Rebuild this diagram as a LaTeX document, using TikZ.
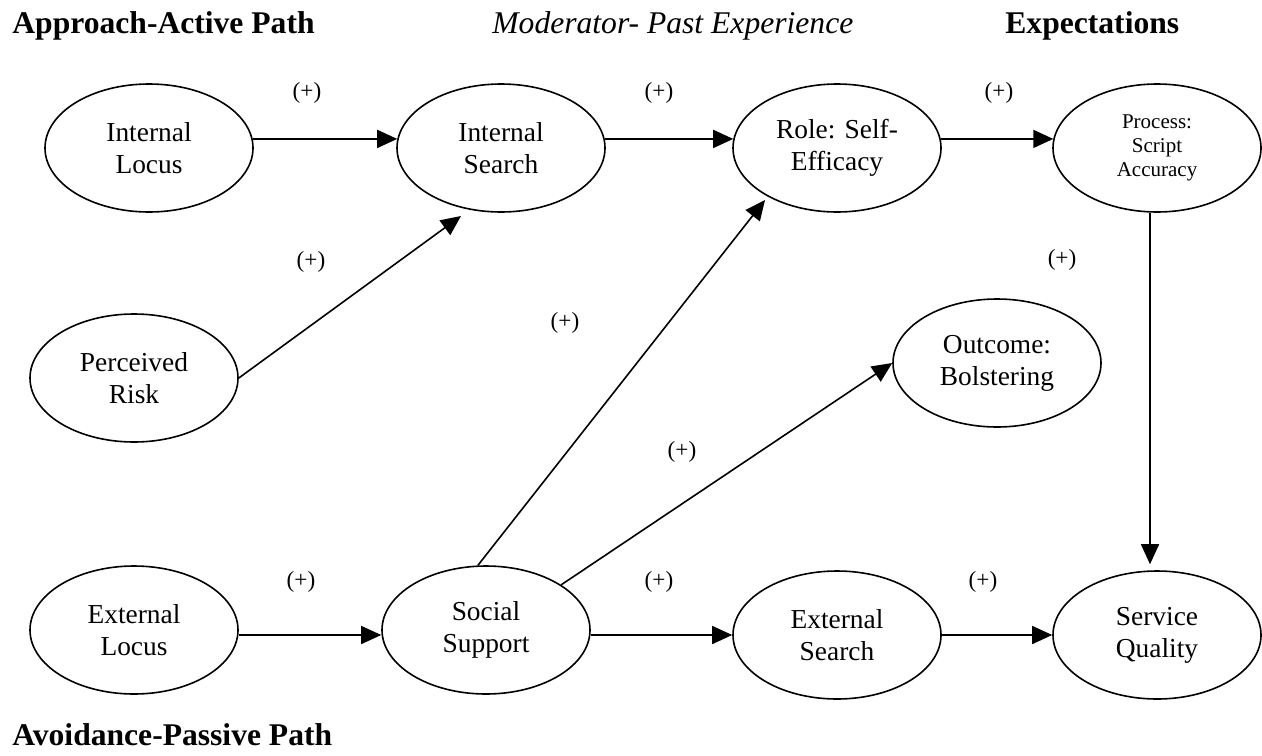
\documentclass[tikz,border=0pt]{standalone}
\usepackage{fontspec}
\setmainfont{Liberation Serif}
\usetikzlibrary{arrows.meta,calc,shapes.geometric}

\tikzset{
  construct/.style={draw, line width=0.8pt, ellipse, inner sep=0pt,
    minimum width=104pt, minimum height=64pt, align=center,
    font=\fontsize{13.7pt}{16pt}\selectfont},
  smalltext/.style={font=\fontsize{10.5pt}{12pt}\selectfont},
  sign/.style={font=\fontsize{11.6pt}{13pt}\selectfont, inner sep=0pt},
  heading/.style={anchor=base west, inner sep=0pt,
    font=\fontsize{15.8pt}{18pt}\selectfont},
  link/.style={line width=0.8pt, -{Triangle[length=10pt,width=9pt]}}
}

\begin{document}
\begin{tikzpicture}[x=0.5pt, y=-0.5pt]
\useasboundingbox (0,0) rectangle (1262,755);

% headings
\node[heading] (hA) at (12,33) {\bfseries Approach-Active Path};
\node[heading] (hM) at (492,33) {\itshape Moderator- Past Experience};
\node[heading] (hE) at (1005,33) {\bfseries Expectations};
\node[heading] (hP) at (12,745) {\bfseries Avoidance-Passive Path};

% constructs
\node[construct] (il) at (149,148) {Internal\\Locus};
\node[construct] (is) at (501,148) {Internal\\Search};
\node[construct] (se) at (837,148) {Role: Self-\\Efficacy};
\node[construct, smalltext] (ps) at (1157,148) {Process:\\Script\\Accuracy};
\node[construct] (pr) at (134,378) {Perceived\\Risk};
\node[construct] (ob) at (997,363) {Outcome:\\Bolstering};
\node[construct] (el) at (134,630) {External\\Locus};
\node[construct] (ss) at (486,630) {Social\\Support};
\node[construct] (es) at (837,635) {External\\Search};
\node[construct] (sq) at (1157,635) {Service\\Quality};

% approach-active path
\draw[link] (il.5) -- (is.175);
\draw[link] (is.5) -- (se.175);
\draw[link] (se.5) -- (ps.175);
\draw[link] (pr.east) -- ($(is.center)+(-40,68)$);

% social support paths
\draw[link] ($(ss.north)+(-8,0)$) -- ($(se.center)+(-72,52)$);
\draw[link] (ss.31) -- (ob.west);

% avoidance-passive path
\draw[link] (el.east |- es.west) -- (ss.west |- es.west);
\draw[link] (ss.east |- es.west) -- (es.west);
\draw[link] (es.east) -- (sq.west);
\draw[link] ($(ps.south)+(-7,0)$) -- ($(sq.north)+(-7,-6)$);

% path signs
\node[sign] (s1) at (307,93) {(+)};
\node[sign] (s2) at (659,93) {(+)};
\node[sign] (s3) at (999,93) {(+)};
\node[sign] (s4) at (311,262) {(+)};
\node[sign] (s5) at (565,323) {(+)};
\node[sign] (s6) at (1062,260) {(+)};
\node[sign] (s7) at (682,452) {(+)};
\node[sign] (s8) at (301,582) {(+)};
\node[sign] (s9) at (659,582) {(+)};
\node[sign] (s10) at (983,582) {(+)};
\end{tikzpicture}
\end{document}
